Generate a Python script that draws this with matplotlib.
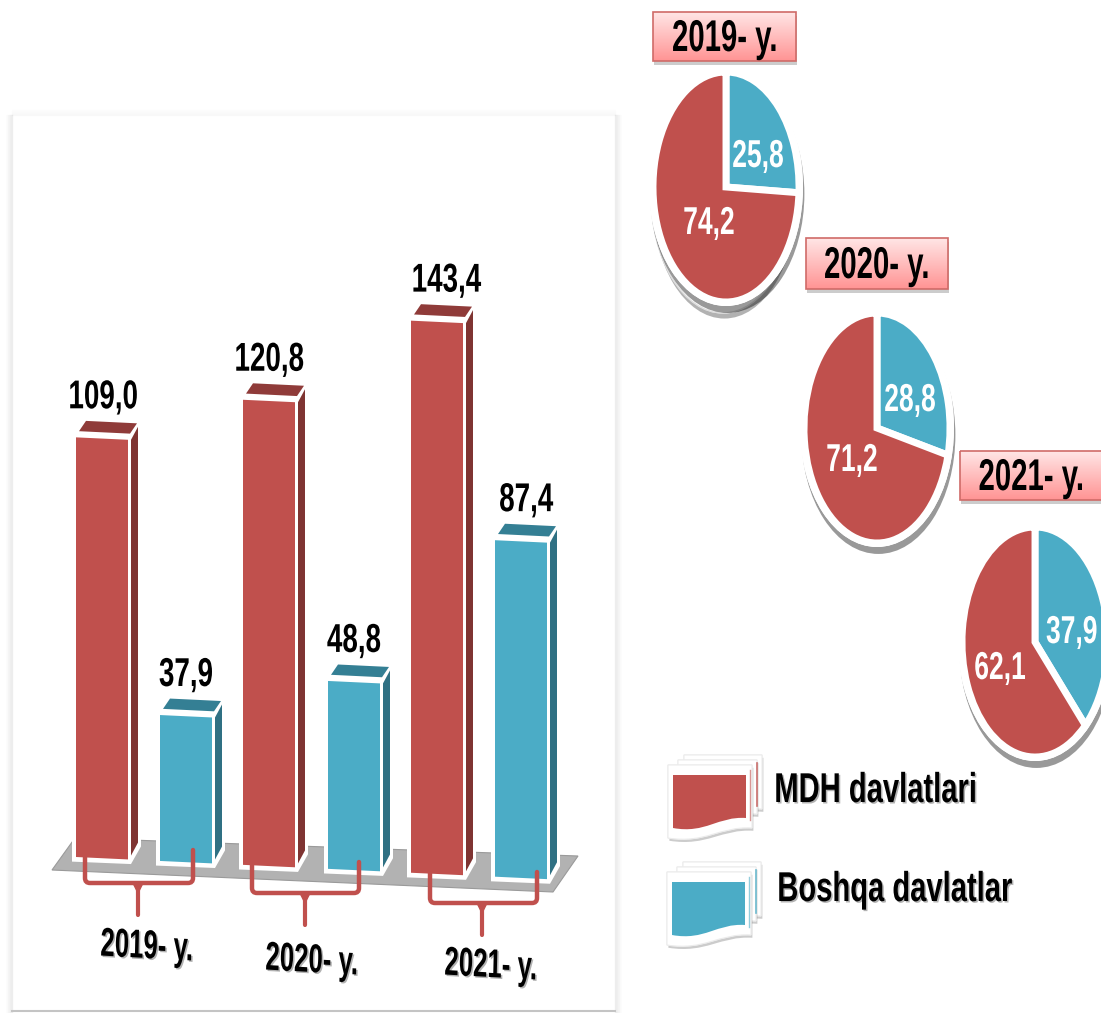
import numpy as np
import matplotlib
matplotlib.use("Agg")
import matplotlib.pyplot as plt
import matplotlib.patheffects as pe
from matplotlib.patches import PathPatch, Polygon, Ellipse
from matplotlib.path import Path
from matplotlib.transforms import Affine2D

# data
years = ["2019- y.", "2020- y.", "2021- y."]
mdh_values = [109.0, 120.8, 143.4]
other_values = [37.9, 48.8, 87.4]
mdh_share = [74.2, 71.2, 62.1]
other_share = [25.8, 28.8, 37.9]
legend_labels = ["MDH davlatlari", "Boshqa davlatlar"]

RED = "#c0504d"
BLUE = "#4bacc6"
RED_SIDE = "#7f3432"
BLUE_SIDE = "#2f7083"
RED_TOP = "#8f3b39"
BLUE_TOP = "#347f94"

W, H = 1101, 1013
plt.rcParams["font.family"] = ["Liberation Sans", "DejaVu Sans"]
plt.rcParams["font.weight"] = "bold"

fig = plt.figure(figsize=(W / 100, H / 100), dpi=100, facecolor="white")


class Squeeze(pe.AbstractPathEffect):
    # the reference lettering is a tall narrow bold, no such font here
    def __init__(self, sx, anchor=0.5, shadow=True):
        super().__init__()
        self.sx = sx
        self.anchor = anchor
        self.shadow = shadow

    def draw_path(self, renderer, gc, tpath, affine, rgbFace=None):
        box = tpath.get_extents(affine)
        cx = box.x0 + self.anchor * box.width
        squeezed = affine + Affine2D().translate(-cx, 0).scale(self.sx, 1).translate(cx, 0)
        if self.shadow:
            gc0 = renderer.new_gc()
            gc0.copy_properties(gc)
            gc0.set_alpha(0.3)
            renderer.draw_path(gc0, tpath, squeezed + Affine2D().translate(1.5, -1.5), (0, 0, 0, 0.3))
            gc0.restore()
        renderer.draw_path(gc, tpath, squeezed, rgbFace)


def pixel_axes(z):
    a = fig.add_axes([0, 0, 1, 1], zorder=z)
    a.set_xlim(0, W)
    a.set_ylim(H, 0)
    a.axis("off")
    a.patch.set_alpha(0)
    return a


shadow = [pe.withSimplePatchShadow(offset=(1, -4), alpha=0.3, shadow_rgbFace="black"), pe.Normal()]
box_shadow = [pe.withSimplePatchShadow(offset=(1, -3), alpha=0.2, shadow_rgbFace="black"), pe.Normal()]

# panel behind the bars and the grey floor
back = pixel_axes(0)
for i in range(7):
    a = 0.06 * (1 - i / 7)
    back.plot([12 - i, 12 - i], [115, H], color="black", alpha=a, lw=1)
    back.plot([615 + i, 615 + i], [115, H], color="black", alpha=a, lw=1)
    back.plot([12, 615], [115 - i, 115 - i], color="black", alpha=a * 0.4, lw=1)
back.plot([12, 615], [1011, 1011], color="#c4c4c4", lw=1.5)
back.add_patch(Polygon([(52, 870), (75, 838), (578, 856), (553, 892)], closed=True,
                       facecolor="#b2b2b2", edgecolor="#9a9a9a", lw=0.8))

# bars, value axis scaled at 3.85 px per unit, floor falls to the right
PX = 3.85
SLANT = 0.047
ax = fig.add_axes([0, 0, 1, 1], zorder=1)
ax.set_xlim(0, W)
ax.set_ylim((857 - H) / PX, 857 / PX)
ax.axis("off")
ax.patch.set_alpha(0)

bar_left = [76, 160, 243, 328, 411, 495]
bar_width = 52
depth_x, depth_y = 7, 13 / PX
label_dx = [1, 0, 0, 0, 9, 5]


def bar_3d(left, value, face, side, top, dx):
    r = left + bar_width
    b0 = -SLANT * (left - 76) / PX
    b1 = -SLANT * (r - 76) / PX
    # white backing gives the light outline round the faces
    ax.fill([left - 4, r + 3, r + depth_x + 6, r + depth_x + 6, r + 3, left - 4],
            [b0 - 1.2, b1 - 1.2, b1 + depth_y, b1 + value + depth_y + 1, b1 + value + 1, b0 + value + 1],
            facecolor="white", edgecolor="none", zorder=2)
    ax.fill([r + 3, r + depth_x + 3, r + depth_x + 3, r + 3],
            [b1 + 1, b1 + depth_y + 1, b1 + value + depth_y, b1 + value],
            facecolor=side, edgecolor="none", zorder=3)
    ax.fill([left + 3, r + 2, r + depth_x + 2, left + 10],
            [b0 + value + 1.6, b1 + value + 1.6, b1 + value + depth_y + 0.9, b0 + value + depth_y + 0.9],
            facecolor=top, edgecolor="none", zorder=3)
    ax.fill([left, r, r, left], [b0, b1, b1 + value, b0 + value], facecolor=face, edgecolor="none", zorder=3)
    ax.text(left + bar_width / 2 + dx, b0 + value + 10.4, f"{value:.1f}".replace(".", ","),
            ha="center", va="center", fontsize=29, color="black", zorder=4,
            path_effects=[Squeeze(0.69, shadow=False)])


for i in range(3):
    bar_3d(bar_left[2 * i], mdh_values[i], RED, RED_SIDE, RED_TOP, label_dx[2 * i])
    bar_3d(bar_left[2 * i + 1], other_values[i], BLUE, BLUE_SIDE, BLUE_TOP, label_dx[2 * i + 1])

# pies, squeezed into tall ellipses
pie_centers = [(726, 187), (877, 428), (1035, 642)]
pie_rx, pie_ry = 73, 115

under = pixel_axes(1.5)
# stacked sheet under the first pie
under.add_patch(Ellipse((723, 194), 144, 238, facecolor="white", edgecolor="#dddddd", lw=1, path_effects=shadow))
for cx, cy in pie_centers:
    under.add_patch(Ellipse((cx, cy), 2 * pie_rx + 8, 2 * pie_ry + 8, facecolor="white", edgecolor="none",
                            path_effects=[pe.withSimplePatchShadow(offset=(1, -5), alpha=0.4, shadow_rgbFace="black"),
                                          pe.Normal()]))

for i, (cx, cy) in enumerate(pie_centers):
    pa = fig.add_axes([(cx - pie_rx) / W, 1 - (cy + pie_ry) / H, 2 * pie_rx / W, 2 * pie_ry / H], zorder=2)
    wedges, _ = pa.pie([other_share[i], mdh_share[i]], colors=[BLUE, RED], startangle=90, counterclock=False,
                       radius=1.0, wedgeprops={"edgecolor": "white", "linewidth": 5})
    pa.set_aspect("auto")
    pa.set_xlim(-1, 1)
    pa.set_ylim(-1, 1)
    for w in wedges:
        w.set_clip_on(False)

top = pixel_axes(3)

# value labels on the pies
pie_label_pos = [[(758, 157), (709, 224)], [(910, 401), (852, 461)], [(1098, 633), (1000, 669)]]
for i in range(3):
    for j, (val, pos) in enumerate(zip([other_share[i], mdh_share[i]], pie_label_pos[i])):
        right_end = i == 2 and j == 0
        top.text(pos[0], pos[1], f"{val:.1f}".replace(".", ","), ha="right" if right_end else "center", va="center",
                 fontsize=28, color="white", clip_on=False,
                 path_effects=[Squeeze(0.68, anchor=1.0 if right_end else 0.5, shadow=False)])

# pink year boxes above the pies
grad = np.linspace(0, 1, 64).reshape(-1, 1)
pink = np.zeros((64, 1, 3))
pink[:, 0, 0] = 1.0
pink[:, 0, 1] = 0.90 - 0.32 * grad[:, 0]
pink[:, 0, 2] = 0.90 - 0.32 * grad[:, 0]
box_pos = [(653, 12, 796, 61), (806, 238, 948, 289), (960, 451, 1106, 500)]
box_text_x = [725, 877, 1085]
for k, ((x0, y0, x1, y1), year) in enumerate(zip(box_pos, years)):
    rect = Polygon([(x0, y0), (x1, y0), (x1, y1), (x0, y1)], closed=True, facecolor="none",
                   edgecolor="#cf6b68", lw=1.2, zorder=3)
    top.add_patch(Polygon([(x0, y0), (x1, y0), (x1, y1), (x0, y1)], closed=True, facecolor="white",
                          edgecolor="none", path_effects=box_shadow, zorder=1))
    top.imshow(pink, extent=(x0, x1, y1, y0), aspect="auto", zorder=2)
    top.add_patch(rect)
    last = k == 2
    top.text(box_text_x[k], (y0 + y1) / 2 + 3, year, ha="right" if last else "center", va="center", fontsize=32,
             color="black", zorder=4, clip_on=False,
             path_effects=[Squeeze(0.66, anchor=1.0 if last else 0.5, shadow=False)])
top.set_xlim(0, W)
top.set_ylim(H, 0)

# brackets under each year group
bracket_pos = [(85, 857, 193, 850, 883, 138, 915), (252, 865, 359, 862, 893, 305, 925), (430, 873, 537, 872, 903, 482, 935)]
for xl, yl, xr, yr, yh, xm, ys in bracket_pos:
    arm = Path([(xl, yl), (xl, yh - 5), (xl, yh), (xl + 5, yh), (xr - 5, yh), (xr, yh), (xr, yh - 5), (xr, yr)],
               [Path.MOVETO, Path.LINETO, Path.CURVE3, Path.CURVE3, Path.LINETO, Path.CURVE3, Path.CURVE3, Path.LINETO])
    top.add_patch(PathPatch(arm, facecolor="none", edgecolor=RED, lw=3.2, capstyle="round"))
    top.plot([xm, xm], [yh, ys], color=RED, lw=3, solid_capstyle="round")
    top.fill([xm - 5, xm + 5, xm + 1.5, xm - 1.5], [yh, yh, yh + 7, yh + 7], color=RED)

year_pos = [(147, 947), (312, 961), (491, 966)]
for (x, y), year in zip(year_pos, years):
    top.text(x, y, year, ha="center", va="center", fontsize=29, rotation=-2, color="black",
             path_effects=[Squeeze(0.64)])


# legend swatches: small stacked wavy sheets
def wave_sheet(x0, y0, x1, yl, yr, **kw):
    verts = [(x0, y0), (x1, y0), (x1, yr),
             (x0 + 0.62 * (x1 - x0), yr - 2), (x0 + 0.45 * (x1 - x0), yl + 6), (x0, yl),
             (x0, y0), (x0, y0)]
    codes = [Path.MOVETO, Path.LINETO, Path.LINETO, Path.CURVE4, Path.CURVE4, Path.CURVE4, Path.LINETO, Path.CLOSEPOLY]
    return PathPatch(Path(verts, codes), **kw)


def swatch(x, y, color):
    sheet_shadow = [pe.withSimplePatchShadow(offset=(1, -2), alpha=0.2, shadow_rgbFace="black"), pe.Normal()]
    for dx0, dy0, dx1, dyl, dyr in [(11, -20, 89, 42, 34), (5, -15, 84, 47, 39), (-5, -10, 79, 63, 53)]:
        top.add_patch(wave_sheet(x + dx0, y + dy0, x + dx1, y + dyl, y + dyr, facecolor="white",
                                 edgecolor="#ececec", lw=0.8, path_effects=sheet_shadow))
    top.plot([x + 77, x + 77], [y - 5, y + 45], color=color, lw=1, alpha=0.6)
    top.plot([x + 84, x + 84], [y - 12, y + 31], color=color, lw=1.2, alpha=0.8)
    top.add_patch(wave_sheet(x, y, x + 73, y + 53, y + 43, facecolor=color, edgecolor="none"))


swatch(673, 775, RED)
swatch(672, 882, BLUE)
top.text(978, 791, legend_labels[0], ha="right", va="center", fontsize=30, color="black",
         path_effects=[Squeeze(0.70, anchor=1.0)])
top.text(1013, 890, legend_labels[1], ha="right", va="center", fontsize=30, color="black",
         path_effects=[Squeeze(0.70, anchor=1.0)])

fig.savefig("out.png", dpi=100)
